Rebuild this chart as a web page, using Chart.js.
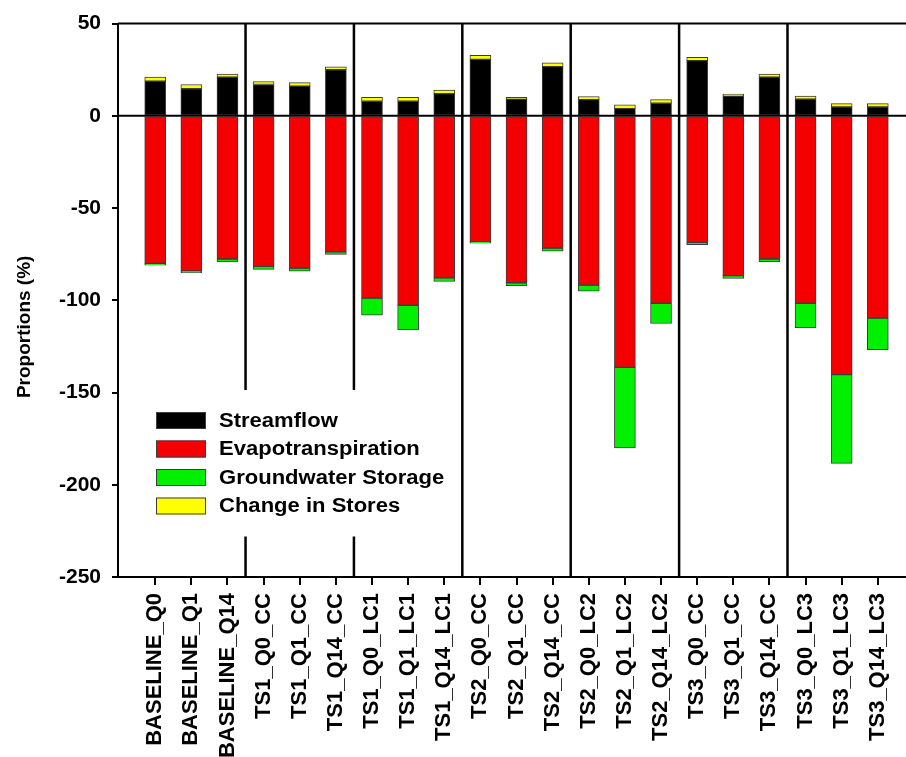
<!DOCTYPE html>
<html>
<head>
<meta charset="utf-8">
<script src="https://cdn.jsdelivr.net/npm/chart.js@4.4.1/dist/chart.umd.min.js"></script>
<style>
  html, body { margin: 0; padding: 0; background: #fff; }
  canvas { display: block; }
</style>
</head>
<body>
<canvas id="chart" width="906" height="757"></canvas>
<script>
// Scenario names along the x axis
const scenarios = [
  'BASELINE_Q0', 'BASELINE_Q1', 'BASELINE_Q14',
  'TS1_Q0_CC', 'TS1_Q1_CC', 'TS1_Q14_CC',
  'TS1_Q0_LC1', 'TS1_Q1_LC1', 'TS1_Q14_LC1',
  'TS2_Q0_CC', 'TS2_Q1_CC', 'TS2_Q14_CC',
  'TS2_Q0_LC2', 'TS2_Q1_LC2', 'TS2_Q14_LC2',
  'TS3_Q0_CC', 'TS3_Q1_CC', 'TS3_Q14_CC',
  'TS3_Q0_LC3', 'TS3_Q1_LC3', 'TS3_Q14_LC3'
];

// Water balance components (% of precipitation)
const streamflow = [18.8, 14.7, 21.0, 17.0, 16.1, 25.0, 7.9, 7.9, 12.0, 30.6, 9.1, 26.7, 8.8, 3.9, 6.8, 29.9, 10.7, 21.0, 9.1, 4.8, 4.8];
const evapotranspiration = [-80.0, -84.1, -77.6, -81.6, -82.6, -73.7, -98.8, -102.7, -87.8, -68.2, -90.5, -71.7, -91.8, -136.4, -101.6, -68.8, -86.6, -77.6, -101.6, -140.3, -109.7];
const groundwaterStorage = [-1.0, -0.9, -1.6, -1.6, -1.6, -1.4, -9.3, -13.4, -2.0, -0.8, -1.6, -1.6, -3.2, -43.6, -11.0, -1.1, -1.6, -1.4, -13.3, -48.1, -17.0];
const changeInStores = [2.2, 2.3, 1.7, 1.6, 1.9, 1.5, 2.1, 2.1, 2.0, 2.2, 0.9, 2.0, 1.7, 2.0, 2.0, 1.8, 1.1, 1.6, 1.6, 1.8, 1.8];

// Value axis
const yMin = -250;
const yMax = 50;
const yStep = 50;
const yTitle = 'Proportions (%)';

// Group boundaries between scenario families (between category indices)
const groupBreaks = [2.5, 5.5, 8.5, 11.5, 14.5, 17.5];
// Boundaries interrupted by the legend box
const brokenBreaks = [2.5, 5.5];

const FONT = "'Liberation Sans', Arial, Helvetica, sans-serif";

function points(values) {
  return values.map((v, i) => ({ x: i, y: v }));
}

function series(label, values, color) {
  return {
    label: label,
    data: points(values),
    backgroundColor: color,
    borderColor: '#3c3c3c',
    borderWidth: 1,
    borderSkipped: false,
    barThickness: 21
  };
}

const datasets = [
  series('Streamflow', streamflow, '#000000'),
  series('Evapotranspiration', evapotranspiration, '#f40000'),
  series('Groundwater Storage', groundwaterStorage, '#00f000'),
  series('Change in Stores', changeInStores, '#ffff00')
];

// Legend layout inside the plot
const legendBox = { x: 156, y: 412, swatchW: 50, swatchH: 17, rowGap: 28.5, textX: 219 };

const framePlugin = {
  id: 'frame',
  afterDatasetsDraw(chart) {
    const { ctx, chartArea, scales } = chart;
    const xs = scales.x, ys = scales.y;
    ctx.save();
    ctx.strokeStyle = '#000';
    // top border
    ctx.lineWidth = 2;
    ctx.beginPath();
    ctx.moveTo(chartArea.left, chartArea.top);
    ctx.lineTo(chartArea.right, chartArea.top);
    ctx.stroke();
    // zero line
    const y0 = ys.getPixelForValue(0);
    ctx.lineWidth = 2;
    ctx.beginPath();
    ctx.moveTo(chartArea.left, y0);
    ctx.lineTo(chartArea.right, y0);
    ctx.stroke();
    // group separators
    const n = datasets.length;
    const gapTop = legendBox.y - 22;
    const gapBottom = legendBox.y + (n - 1) * legendBox.rowGap + legendBox.swatchH + 22;
    ctx.lineWidth = 2.5;
    groupBreaks.forEach(b => {
      const px = xs.getPixelForValue(b);
      ctx.beginPath();
      if (brokenBreaks.includes(b)) {
        ctx.moveTo(px, chartArea.top);
        ctx.lineTo(px, gapTop);
        ctx.moveTo(px, gapBottom);
        ctx.lineTo(px, chartArea.bottom);
      } else {
        ctx.moveTo(px, chartArea.top);
        ctx.lineTo(px, chartArea.bottom);
      }
      ctx.stroke();
    });
    ctx.restore();
  },
  afterDraw(chart) {
    const { ctx } = chart;
    // legend
    ctx.save();
    ctx.textBaseline = 'middle';
    ctx.textAlign = 'left';
    chart.data.datasets.forEach((ds, i) => {
      const y = legendBox.y + i * legendBox.rowGap;
      ctx.fillStyle = ds.backgroundColor;
      ctx.fillRect(legendBox.x, y, legendBox.swatchW, legendBox.swatchH);
      ctx.strokeStyle = '#3c3c3c';
      ctx.lineWidth = 1;
      ctx.strokeRect(legendBox.x + 0.5, y + 0.5, legendBox.swatchW - 1, legendBox.swatchH - 1);
      ctx.save();
      ctx.translate(legendBox.textX, y + legendBox.swatchH / 2 + 1);
      ctx.scale(1.13, 1);
      ctx.font = "bold 19.5px " + FONT;
      ctx.fillStyle = '#000';
      ctx.fillText(ds.label, 0, 0);
      ctx.restore();
    });
    ctx.restore();

    // value axis title, placed a little below the middle of the axis
    const ca = chart.chartArea;
    ctx.save();
    ctx.translate(25, ca.top + (ca.bottom - ca.top) * 0.548);
    ctx.rotate(-Math.PI / 2);
    ctx.font = "bold 19px " + FONT;
    ctx.fillStyle = '#000';
    ctx.textAlign = 'center';
    ctx.textBaseline = 'middle';
    ctx.fillText(yTitle, 0, 0);
    ctx.restore();
  }
};

new Chart(document.getElementById('chart'), {
  type: 'bar',
  data: { datasets: datasets },
  plugins: [framePlugin],
  options: {
    responsive: false,
    animation: false,
    devicePixelRatio: 1,
    layout: { padding: { top: 20, left: 0, right: 0, bottom: 0 } },
    plugins: {
      legend: { display: false },
      tooltip: { enabled: false }
    },
    scales: {
      x: {
        type: 'linear',
        stacked: true,
        offset: false,
        min: -1.03,
        max: 20.78,
        afterBuildTicks(scale) {
          scale.ticks = scenarios.map((_, i) => ({ value: i }));
        },
        afterFit(scale) {
          scale.height = 180;
          scale.paddingLeft = 0;
          scale.paddingRight = 0;
        },
        ticks: {
          autoSkip: false,
          minRotation: 90,
          maxRotation: 90,
          padding: 8,
          color: '#000',
          font: { family: FONT, size: 22, weight: 'bold' },
          callback: (value) => scenarios[value] ?? ''
        },
        grid: {
          offset: false,
          drawOnChartArea: false,
          drawTicks: true,
          tickLength: 8,
          color: '#000',
          lineWidth: 2
        },
        border: { display: true, color: '#000', width: 2 }
      },
      y: {
        stacked: true,
        min: yMin,
        max: yMax,
        afterFit(scale) { scale.width = 118; },
        ticks: {
          stepSize: yStep,
          padding: 11,
          color: '#000',
          font: { family: FONT, size: 21, weight: 'bold' }
        },
        grid: {
          drawOnChartArea: false,
          drawTicks: true,
          tickLength: 6,
          color: '#000',
          lineWidth: 2
        },
        border: { display: true, color: '#000', width: 2 },
        title: { display: false }
      }
    }
  }
});
</script>
</body>
</html>
